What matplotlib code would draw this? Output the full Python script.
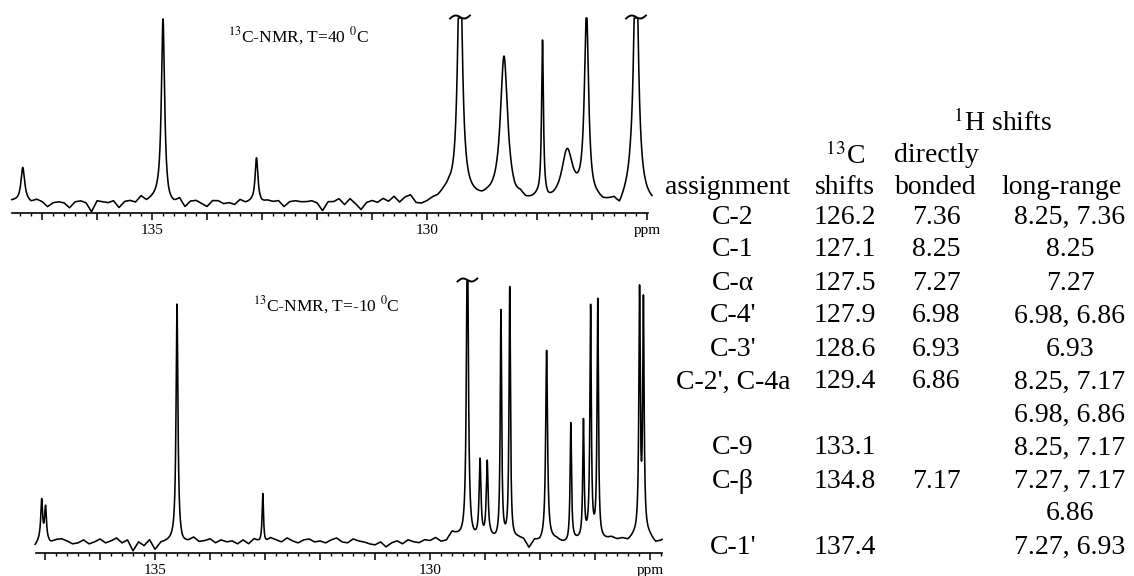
import numpy as np
import matplotlib.pyplot as plt
from matplotlib.ticker import FixedLocator, MultipleLocator, FuncFormatter

plt.rcParams['font.family'] = ['Liberation Serif', 'DejaVu Serif']
plt.rcParams['mathtext.fontset'] = 'stix'

# --- spectrum at 40 C: peaks (ppm, height above baseline in px, half width in ppm)
warm_ppm = [137.35, 134.80, 133.10, 129.40, 128.60, 127.90, 127.45, 127.10, 126.20]
warm_height = [34, 182, 44, 260, 145, 157, 48, 185, 260]
warm_hwhm = [0.04, 0.035, 0.03, 0.05, 0.08, 0.02, 0.12, 0.045, 0.05]

# baseline wiggles of the 40 C trace, 137.6 -> 125.8 ppm in 0.1 ppm steps
warm_base_start, warm_base_step = 137.6, 0.1
warm_base = [12, 12, 11, 12, 10, 13, 11, 6, 10, 11,
             10, 5, 11, 12, 10, 1, 12, 11, 10, 12,
             5, 11, 12, 10, 16, 11, 13, 14, 12, 7,
             8, 13, 5, 11, 12, 9, 6, 12, 12, 9,
             10, 8, 13, 10, 11, 11, 10, 12, 11, 12,
             6, 11, 12, 11, 11, 12, 10, 2, 11, 11,
             14, 8, 14, 9, 3, 10, 12, 10, 14, 11,
             16, 10, 15, 17, 9, 8, 10, 13, 14, 18,
             20, 14, 12, 14, 14, 13, 12, 13, 12, 10,
             10, 10, 8, 12, 9, 10, 12, 10, 8, 9,
             10, 12, 12, 12, 12, 12, 9, 10, 8, 9,
             10, 3, 12, 20, 16, 14, 11, 9, 9]

# --- spectrum at -10 C
cold_ppm = [137.06, 136.99, 134.60, 133.04, 129.32, 129.09, 128.96, 128.71,
            128.55, 127.88, 127.44, 127.21, 127.08, 126.95, 126.19, 126.12]
cold_height = [40, 33, 237, 49, 330, 78, 76, 228, 252, 190, 118, 118, 228, 238, 240, 228]
cold_hwhm = [0.02, 0.02, 0.02, 0.015, 0.02, 0.02, 0.02, 0.015,
             0.015, 0.02, 0.015, 0.015, 0.015, 0.015, 0.015, 0.015]

# baseline wiggles of the -10 C trace, 137.3 -> 125.7 ppm in 0.1 ppm steps
cold_base_start, cold_base_step = 137.3, 0.1
cold_base = [3, 6, 12, 12, 10, 13, 14, 12, 9, 10,
             13, 9, 11, 14, 10, 12, 15, 10, 13, 2,
             11, 7, 13, 3, 10, 11, 12, 12, 9, 11,
             15, 11, 12, 14, 10, 13, 11, 12, 9, 13,
             9, 14, 11, 10, 15, 13, 11, 15, 12, 10,
             13, 14, 11, 12, 10, 13, 15, 11, 10, 14,
             12, 11, 9, 8, 11, 6, 10, 12, 9, 13,
             11, 10, 13, 12, 15, 11, 12, 20, 17, 14,
             12, 12, 12, 12, 14, 12, 12, 12, 12, 14,
             13, 4, 12, 10, 12, 13, 13, 10, 9, 12,
             12, 12, 16, 14, 12, 13, 15, 13, 14, 12,
             16, 18, 20, 16, 10, 12, 16]

# --- table
assignments = ["C-2", "C-1", "C-\u03b1", "C-4'", "C-3'", "C-2', C-4a", "C-9", "C-\u03b2", "C-1'"]
c13_shifts = ["126.2", "127.1", "127.5", "127.9", "128.6", "129.4", "133.1", "134.8", "137.4"]
h_direct = ["7.36", "8.25", "7.27", "6.98", "6.93", "6.86", "", "7.17", ""]
h_long = [["8.25, 7.36"], ["8.25"], ["7.27"], ["6.98, 6.86"], ["6.93"],
          ["8.25, 7.17", "6.98, 6.86"], ["8.25, 7.17"], ["7.27, 7.17", "6.86"], ["7.27, 6.93"]]

W, H = 1134, 576
fig = plt.figure(figsize=(W / 100, H / 100), dpi=100)


def px_axes(left, bottom, right, top):
    return fig.add_axes([left / W, 1 - bottom / H, (right - left) / W, (bottom - top) / H])


def spectrum(ax, ppm0, ppm1, start, step, base, pos, height, hwhm, clip):
    grid = np.linspace(ppm0, ppm1, 8000)
    bx = start - step * np.arange(len(base))
    y = np.interp(grid, bx[::-1], np.array(base, float)[::-1])
    for p, h, w in zip(pos, height, hwhm):
        y = y + h * w ** 2 / ((grid - p) ** 2 + w ** 2)
    ax.plot(grid, np.minimum(y, clip), color='black', lw=1.15, clip_on=False)
    # break marks on the peaks that run off the top
    t = np.linspace(-1, 1, 40)
    for p, h in zip(pos, height):
        if h > clip:
            ax.plot(p - t * 0.18, clip + 1 - 2.2 * np.sin(np.pi * t) + 1.5 * t,
                    color='black', lw=1.4, clip_on=False)


def style_axis(ax):
    for s in ['top', 'left', 'right']:
        ax.spines[s].set_visible(False)
    ax.spines['bottom'].set_linewidth(1.2)
    ax.set_yticks([])
    ax.patch.set_visible(False)
    ax.xaxis.set_major_locator(FixedLocator(np.arange(126, 138)))
    ax.xaxis.set_minor_locator(MultipleLocator(0.2))
    names = {135: '135', 130: '130', 126: 'ppm'}
    ax.xaxis.set_major_formatter(FuncFormatter(lambda v, i: names.get(int(round(v)), '')))
    ax.tick_params(axis='x', which='major', direction='out', length=5, width=1.1, labelsize=11, pad=3)
    ax.tick_params(axis='x', which='minor', direction='out', length=2.5, width=1)


# top panel (40 C): 135 ppm at x=152 px, 55 px per ppm
top = px_axes(12, 213, 648, 0)
top.set_xlim(135 + (152 - 12) / 55, 135 - (648 - 152) / 55)
top.set_ylim(0, 213)
spectrum(top, 137.55, 125.91, warm_base_start, warm_base_step, warm_base,
         warm_ppm, warm_height, warm_hwhm, 195)
style_axis(top)
fig.text(228 / W, 1 - 36 / H, r'$^{13}$C-NMR, T=40 $^{0}$C', fontsize=12.5, va='center', ha='left')

# bottom panel (-10 C): 135 ppm at x=155 px
bot = px_axes(36, 553, 662, 263)
bot.set_xlim(135 + (155 - 36) / 55, 135 - (662 - 155) / 55)
bot.set_ylim(0, 290)
spectrum(bot, 137.18, 125.78, cold_base_start, cold_base_step, cold_base,
         cold_ppm, cold_height, cold_hwhm, 272)
style_axis(bot)
fig.text(253 / W, 1 - 305 / H, r'$^{13}$C-NMR, T=-10 $^{0}$C', fontsize=12.5, va='center', ha='left')

# table on the right
fs = 20
col_x = [733, 845, 936, 1070]


def put(x, y, s):
    fig.text(x / W, 1 - y / H, s, fontsize=fs, ha='center', va='center')


put(1003, 123, r'$^{1}$H shifts')
put(col_x[1], 156, r'$^{13}$C')
put(col_x[2], 156, 'directly')
put(728, 188, 'assignment')
put(col_x[1], 188, 'shifts')
put(col_x[2], 188, 'bonded')
put(1062, 188, 'long-range')

row_y, row_step = 217, 33
line = 0
for name, c13, hd, hl in zip(assignments, c13_shifts, h_direct, h_long):
    y = row_y + row_step * line
    put(col_x[0], y, name)
    put(col_x[1], y, c13)
    put(col_x[2], y, hd)
    for k, s in enumerate(hl):
        put(col_x[3], y + row_step * k, s)
    line += len(hl)

fig.savefig('out.png', dpi=100)
